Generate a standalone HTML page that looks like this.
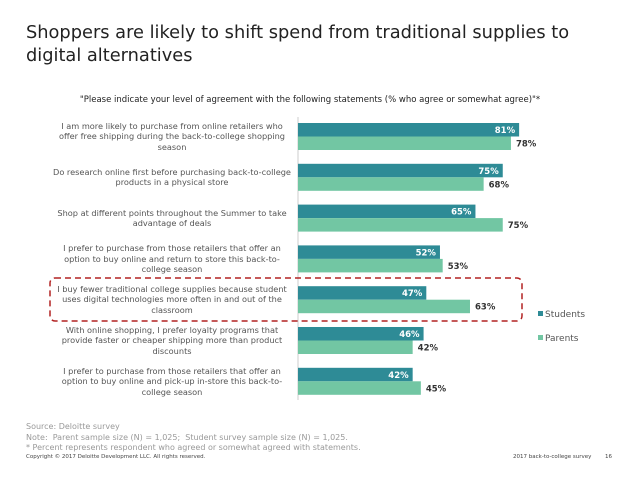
<!DOCTYPE html>
<html><head><meta charset="utf-8"><style>
body{margin:0;width:638px;height:479px;background:#fff;font-family:"DejaVu Sans","Liberation Sans",sans-serif;position:relative;overflow:hidden}
.t{position:absolute}
.cat{position:absolute;left:40px;width:264px;text-align:center;font-size:8.2px;line-height:10.5px;color:#555;white-space:pre-line}
</style></head><body>
<div class="t" style="left:26px;top:21px;font-size:17.8px;line-height:23px;color:#222">Shoppers are likely to shift spend from traditional supplies to<br>digital alternatives</div>
<div class="t" style="left:0;width:620px;text-align:center;top:95px;font-size:8.5px;color:#222">"Please indicate your level of agreement with the following statements (% who agree or somewhat agree)"*</div>
<svg id="chart" width="638" height="479" style="position:absolute;left:0;top:0"></svg>
<div id="cats"></div>
<div class="t" style="left:26px;top:422px;font-size:8px;line-height:10.5px;color:#999">Source: Deloitte survey<br>Note:&nbsp; Parent sample size (N) = 1,025;&nbsp; Student survey sample size (N) = 1,025.<br>* Percent represents respondent who agreed or somewhat agreed with statements.</div>
<div class="t" style="left:26px;top:454px;font-size:5.5px;color:#444">Copyright © 2017 Deloitte Development LLC. All rights reserved.</div>
<div class="t" style="left:513px;top:454px;font-size:5.5px;color:#444">2017 back-to-college survey</div>
<div class="t" style="left:605px;top:454px;font-size:5.5px;color:#444">16</div>
<script>
const categories=["I am more likely to purchase from online retailers who\noffer free shipping during the back-to-college shopping\nseason","Do research online first before purchasing back-to-college\nproducts in a physical store","Shop at different points throughout the Summer to take\nadvantage of deals","I prefer to purchase from those retailers that offer an\noption to buy online and return to store this back-to-\ncollege season","I buy fewer traditional college supplies because student\nuses digital technologies more often in and out of the\nclassroom","With online shopping, I prefer loyalty programs that\nprovide faster or cheaper shipping more than product\ndiscounts","I prefer to purchase from those retailers that offer an\noption to buy online and pick-up in-store this back-to-\ncollege season"];
const students=[81,75,65,52,47,46,42];
const parents=[78,68,75,53,63,42,45];
const svg=document.getElementById('chart');const NS='http://www.w3.org/2000/svg';
const x0=298,k=2.73,y0=123,pitch=40.8,bh=13.5;
const xs=v=>x0+v*k, gy=i=>y0+i*pitch;
function mk(t,a){const e=document.createElementNS(NS,t);for(const n in a)e.setAttribute(n,a[n]);svg.appendChild(e);return e;}
const ax=mk('line',{x1:x0,x2:x0,y1:117,y2:400,stroke:'#ccc','stroke-width':1});


const box=mk('rect',{x:50,y:278,width:472,height:43,rx:5,fill:'none',stroke:'#b22222','stroke-width':1.5,'stroke-dasharray':'6,4'});


const cd=document.getElementById('cats');
categories.forEach((c,i)=>{
 const y=gy(i);
 const b1=mk('rect',{x:x0,y:y,width:xs(students[i])-x0,height:bh,fill:'#2e8b96'});
 
 
 const t1=mk('text',{x:xs(students[i])-4,y:y+10,'text-anchor':'end','font-size':8.5,'font-weight':'bold',fill:'#fff'});t1.textContent=students[i]+'%';
 
 
 const b2=mk('rect',{x:x0,y:y+bh,width:xs(parents[i])-x0,height:bh,fill:'#72c6a3'});
 
 
 const t2=mk('text',{x:xs(parents[i])+5,y:y+bh+10,'font-size':8.5,'font-weight':'bold',fill:'#333'});t2.textContent=parents[i]+'%';
 
 
 const d=document.createElement('div');d.className='cat';d.textContent=c;
 
 
 cd.appendChild(d);
 const h=c.split('\n').length*10.5;d.style.top=(y+bh-h/2)+'px';
});
[['Students','#2e8b96',316],['Parents','#72c6a3',340]].forEach((l,i)=>{
 const r=mk('rect',{x:538,y:l[2]-5,width:5,height:5,fill:l[1]});
 
 
 const t=mk('text',{x:545,y:l[2]+1,'font-size':9,fill:'#555'});t.textContent=l[0];
 
 
});
</script>
</body></html>
